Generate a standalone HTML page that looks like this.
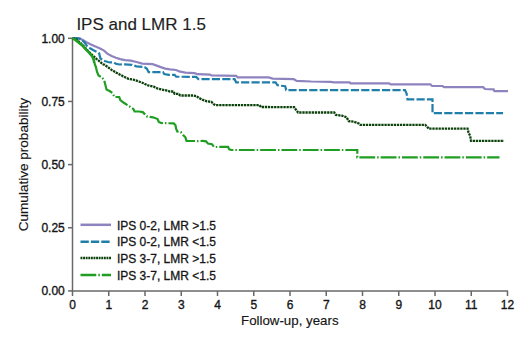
<!DOCTYPE html>
<html><head><meta charset="utf-8"><title>IPS and LMR 1.5</title><style>
html,body{margin:0;padding:0;background:#fff;width:520px;height:347px;overflow:hidden}
svg{display:block}
text{font-family:"Liberation Sans",sans-serif}
</style></head><body>
<svg width="520" height="347" viewBox="0 0 520 347">
<rect width="520" height="347" fill="#fff"/>
<text x="76.4" y="30.2" font-size="17" fill="#1e1e1e" stroke="#1e1e1e" stroke-width="0.15">IPS and LMR 1.5</text>
<g stroke="#686868" stroke-width="1.5" fill="none">
<line x1="72.5" y1="38" x2="72.5" y2="291.3"/>
<line x1="71.7" y1="290.9" x2="508" y2="290.9"/>
<line x1="72.50" y1="291" x2="72.50" y2="296"/><line x1="108.75" y1="291" x2="108.75" y2="296"/><line x1="145.00" y1="291" x2="145.00" y2="296"/><line x1="181.25" y1="291" x2="181.25" y2="296"/><line x1="217.50" y1="291" x2="217.50" y2="296"/><line x1="253.75" y1="291" x2="253.75" y2="296"/><line x1="290.00" y1="291" x2="290.00" y2="296"/><line x1="326.25" y1="291" x2="326.25" y2="296"/><line x1="362.50" y1="291" x2="362.50" y2="296"/><line x1="398.75" y1="291" x2="398.75" y2="296"/><line x1="435.00" y1="291" x2="435.00" y2="296"/><line x1="471.25" y1="291" x2="471.25" y2="296"/><line x1="507.50" y1="291" x2="507.50" y2="296"/><line x1="68" y1="38.30" x2="72.5" y2="38.30"/><line x1="68" y1="101.45" x2="72.5" y2="101.45"/><line x1="68" y1="164.60" x2="72.5" y2="164.60"/><line x1="68" y1="227.75" x2="72.5" y2="227.75"/><line x1="68" y1="290.90" x2="72.5" y2="290.90"/>
</g>
<g font-size="12" fill="#151515" stroke="#151515" stroke-width="0.35"><text x="72.50" y="308.5" text-anchor="middle">0</text><text x="108.75" y="308.5" text-anchor="middle">1</text><text x="145.00" y="308.5" text-anchor="middle">2</text><text x="181.25" y="308.5" text-anchor="middle">3</text><text x="217.50" y="308.5" text-anchor="middle">4</text><text x="253.75" y="308.5" text-anchor="middle">5</text><text x="290.00" y="308.5" text-anchor="middle">6</text><text x="326.25" y="308.5" text-anchor="middle">7</text><text x="362.50" y="308.5" text-anchor="middle">8</text><text x="398.75" y="308.5" text-anchor="middle">9</text><text x="435.00" y="308.5" text-anchor="middle">10</text><text x="471.25" y="308.5" text-anchor="middle">11</text><text x="507.50" y="308.5" text-anchor="middle">12</text><text x="64.8" y="42.80" text-anchor="end">1.00</text><text x="64.8" y="105.95" text-anchor="end">0.75</text><text x="64.8" y="169.10" text-anchor="end">0.50</text><text x="64.8" y="232.25" text-anchor="end">0.25</text><text x="64.8" y="295.40" text-anchor="end">0.00</text></g>
<text x="289.8" y="325.0" font-size="13.3" text-anchor="middle" fill="#151515" stroke="#151515" stroke-width="0.15">Follow-up, years</text>
<text transform="translate(28.0,164.6) rotate(-90)" font-size="13.56" text-anchor="middle" fill="#151515" stroke="#151515" stroke-width="0.15">Cumulative probability</text>
<g fill="none" stroke-width="2.2" stroke-linejoin="miter">
<polyline points="72.5,38.0 78.0,38.2 80.0,38.6 83.2,40.2 86.5,42.3 90.9,44.5 95.5,46.6 100.1,48.6 104.0,50.6 107.3,53.6 111.6,55.9 115.9,57.7 120.2,59.1 125.0,60.1 130.8,60.6 136.5,62.0 142.3,63.6 152.6,64.1 156.1,65.4 160.7,67.1 165.3,68.6 170.0,69.4 176.2,70.0 179.2,71.4 185.4,72.6 194.6,73.1 197.7,74.2 210.0,74.6 211.5,75.4 236.2,75.8 237.7,77.4 268.8,77.4 272.7,78.6 293.8,79.2 296.7,80.9 311.2,81.5 330.4,81.8 334.2,82.4 349.7,82.4 350.6,83.4 389.0,83.4 390.7,84.4 430.4,84.4 432.1,86.0 442.5,86.0 444.2,87.2 483.2,87.2 484.9,89.0 493.6,89.3 494.4,91.2 508.0,91.2" stroke="#8f83bf"/>
<polyline points="72.5,38.0 77.0,38.3 81.0,38.9 84.5,42.5 87.3,46.3 90.5,48.6 94.0,50.4 97.8,52.4 99.2,53.5 99.9,56.4 100.5,58.5 102.0,59.5 104.7,61.0 108.0,62.0 109.9,62.3 114.2,62.5 115.9,63.8 119.4,64.5 125.0,64.3 131.9,64.8 136.5,66.4 144.6,67.1 146.9,68.8 148.6,72.2 163.0,72.2 164.2,74.0 168.8,74.8 174.6,74.8 176.2,76.7 196.2,76.9 198.5,79.2 234.6,79.2 236.2,82.4 275.6,82.4 277.5,85.3 285.2,86.2 286.2,90.1 405.0,90.1 406.6,93.5 407.5,99.3 432.5,99.3 432.5,113.2 503.0,113.2" stroke="#1f7eaa" stroke-dasharray="8.2 2.2"/>
<polyline points="72.5,38.0 76.5,39.6 80.5,43.0 84.5,47.0 88.5,51.4 91.5,54.3 94.0,56.6 96.4,58.8 99.9,61.6 103.0,64.3 104.7,64.9 108.0,67.2 111.6,69.9 115.9,72.4 120.2,74.8 123.8,76.6 128.4,78.8 134.2,79.8 138.8,81.5 143.4,83.2 148.0,85.4 153.8,86.7 157.3,88.3 161.9,89.6 167.6,90.7 170.0,91.5 173.5,91.5 174.6,93.8 178.1,93.8 180.4,95.5 193.1,95.5 196.5,96.1 198.8,97.9 202.3,99.6 206.9,101.3 211.5,101.9 213.8,104.2 215.6,105.1 259.4,105.1 261.0,107.0 294.2,107.1 295.8,109.5 298.1,112.5 334.2,112.5 335.8,114.9 341.9,115.7 346.5,117.2 348.8,121.1 354.2,121.8 358.8,123.4 360.4,124.9 425.2,124.9 426.9,126.4 428.7,128.7 467.6,128.7 468.5,132.5 470.2,136.0 471.0,140.8 504.0,140.8" stroke="#0a400a" stroke-width="2.3" stroke-dasharray="2.3 0.8"/>
<polyline points="72.5,38.0 74.8,39.6 78.5,42.6 82.3,45.5 85.3,48.8 88.6,52.2 91.0,55.0 92.6,57.0 93.6,59.5 94.4,63.0" stroke="#1f9e22" stroke-width="2.6"/>
<polyline points="94.4,63.0 96.0,67.3 96.9,71.4 98.5,75.5 101.9,77.3 104.2,80.4 105.4,85.0 106.5,89.6 110.0,91.3 112.3,93.0 114.6,97.0 119.2,97.0 120.3,100.0 123.8,102.8 128.4,105.7 131.9,108.0 133.5,109.2 134.6,111.5 139.2,111.5 142.7,112.1 145.0,114.4 147.3,116.7 153.0,117.3 157.6,119.0 158.8,121.9 161.1,123.0 173.8,123.4 175.5,125.3 176.1,128.8 177.3,131.5 180.8,132.1 183.1,135.0 185.4,137.3 186.5,140.8 198.1,141.1 202.7,140.9 206.1,141.3 207.9,143.6 211.9,144.2 214.2,147.0 228.1,146.9 229.2,149.4 231.5,150.0 357.3,150.0 357.3,157.3 499.5,157.3" stroke="#1f9e22" stroke-dasharray="15.8 2 1.5 2"/>
</g>
<line x1="80.5" y1="224.8" x2="111" y2="224.8" stroke="#8f83bf" stroke-width="2.5"/><line x1="80.5" y1="241.8" x2="111" y2="241.8" stroke="#1f7eaa" stroke-width="2.5" stroke-dasharray="8.3 2.1"/><line x1="80.5" y1="257.9" x2="111" y2="257.9" stroke="#0a400a" stroke-width="2.5" stroke-dasharray="1.9 0.7"/><line x1="80.5" y1="275.1" x2="111" y2="275.1" stroke="#1f9e22" stroke-width="2.5" stroke-dasharray="15.8 2 1.5 2"/>
<g font-size="12" fill="#151515" stroke="#151515" stroke-width="0.3"><text x="116.9" y="229.6">IPS 0-2, LMR &gt;1.5</text><text x="116.9" y="246.3">IPS 0-2, LMR &lt;1.5</text><text x="116.9" y="263.1">IPS 3-7, LMR &gt;1.5</text><text x="116.9" y="279.7">IPS 3-7, LMR &lt;1.5</text></g>
</svg>
</body></html>
